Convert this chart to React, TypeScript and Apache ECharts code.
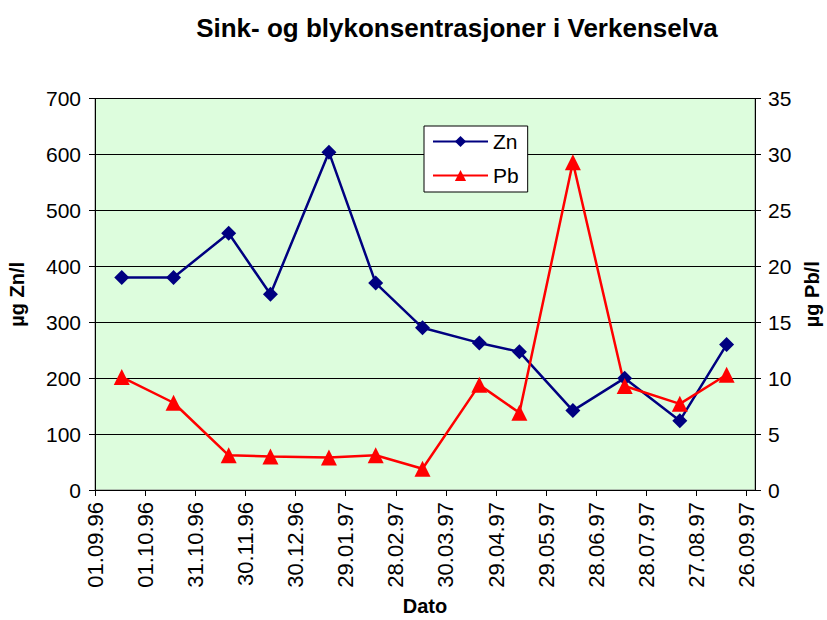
import React, { useEffect, useRef } from "react";
import * as echarts from "echarts";

const titleText = "Sink- og blykonsentrasjoner i Verkenselva";
const sampleDates = [
  "1996-09-17", "1996-10-18", "1996-11-20", "1996-12-15", "1997-01-19",
  "1997-02-16", "1997-03-16", "1997-04-19", "1997-05-13", "1997-06-14",
  "1997-07-15", "1997-08-17", "1997-09-14",
];
const znValues = [380, 380, 459, 350, 604, 370, 290, 263, 247, 142, 200, 124, 260];
const pbValues = [10.1, 7.8, 3.1, 3.0, 2.9, 3.1, 1.9, 9.4, 6.9, 29.3, 9.3, 7.7, 10.3];
const axisStart = "1996-09-01";

const DAY = 86400000;
const toUtc = (s: string) => {
  const [y, m, d] = s.split("-").map(Number);
  return Date.UTC(y, m - 1, d);
};
const startMs = toUtc(axisStart);
const dayOffset = (s: string) => Math.round((toUtc(s) - startMs) / DAY);
const fmtDay = (v: number) => {
  const d = new Date(startMs + v * DAY);
  const dd = String(d.getUTCDate()).padStart(2, "0");
  const mm = String(d.getUTCMonth() + 1).padStart(2, "0");
  const yy = String(d.getUTCFullYear() % 100).padStart(2, "0");
  return `${dd}.${mm}.${yy}`;
};

const FONT = "Liberation Sans, Arial, sans-serif";

export default function App() {
  const ref = useRef<HTMLDivElement>(null);
  useEffect(() => {
    if (!ref.current) return;
    const chart = echarts.init(ref.current, undefined, { renderer: "svg" });
    const zn = sampleDates.map((d, i) => [dayOffset(d), znValues[i]]);
    const pb = sampleDates.map((d, i) => [dayOffset(d), pbValues[i]]);
    chart.setOption({
      animation: false,
      backgroundColor: "#ffffff",
      textStyle: { fontFamily: FONT },
      title: {
        text: titleText,
        left: 452,
        top: 10,
        textAlign: "center",
        textStyle: { fontFamily: FONT, fontSize: 26, fontWeight: "bold", color: "#000" },
      },
      legend: {
        orient: "vertical",
        left: 424,
        top: 126,
        backgroundColor: "#ffffff",
        borderColor: "#000000",
        borderWidth: 1,
        borderRadius: 0,
        padding: [5, 9, 6, 8],
        itemWidth: 55,
        itemHeight: 14,
        itemGap: 13,
        textStyle: { fontFamily: FONT, fontSize: 21, color: "#000" },
        data: ["Zn", "Pb"],
      },
      grid: {
        left: 95,
        right: 72,
        top: 98.5,
        bottom: 130,
        show: true,
        backgroundColor: "#DDFDDD",
        borderColor: "#808080",
        borderWidth: 1,
        outerBoundsMode: "none",
        containLabel: false,
      },
      xAxis: {
        type: "value",
        min: 0,
        max: 395,
        interval: 30,
        name: "Dato",
        nameLocation: "middle",
        nameGap: 106,
        nameTextStyle: { fontFamily: FONT, fontSize: 20, fontWeight: "bold", color: "#000" },
        axisLine: { show: true, lineStyle: { color: "#000", width: 1 } },
        axisTick: { show: true, length: 6, lineStyle: { color: "#000" } },
        splitLine: { show: false },
        axisLabel: {
          rotate: 90,
          margin: 12,
          showMaxLabel: false,
          fontFamily: FONT,
          fontSize: 22,
          color: "#000",
          formatter: (v: number) => (v % 30 === 0 ? fmtDay(v) : ""),
        },
      },
      yAxis: [
        {
          type: "value",
          min: 0,
          max: 700,
          interval: 100,
          position: "left",
          name: "µg Zn/l",
          nameLocation: "middle",
          nameRotate: 90,
          nameGap: 68,
          nameTextStyle: { fontFamily: FONT, fontSize: 20, fontWeight: "bold", color: "#000" },
          axisLine: { show: true, lineStyle: { color: "#000", width: 1 } },
          axisTick: { show: true, length: 6, lineStyle: { color: "#000" } },
          splitLine: { show: true, lineStyle: { color: "#000", width: 1 } },
          axisLabel: { fontFamily: FONT, fontSize: 21, color: "#000", margin: 14 },
        },
        {
          type: "value",
          min: 0,
          max: 35,
          interval: 5,
          position: "right",
          name: "µg Pb/l",
          nameLocation: "middle",
          nameRotate: 90,
          nameGap: 46,
          nameTextStyle: { fontFamily: FONT, fontSize: 20, fontWeight: "bold", color: "#000" },
          axisLine: { show: true, lineStyle: { color: "#000", width: 1 } },
          axisTick: { show: true, length: 6, lineStyle: { color: "#000" } },
          splitLine: { show: false },
          axisLabel: { fontFamily: FONT, fontSize: 21, color: "#000", margin: 13 },
        },
      ],
      series: [
        {
          name: "Zn",
          type: "line",
          yAxisIndex: 0,
          data: zn,
          symbol: "diamond",
          symbolSize: 15,
          itemStyle: { color: "#000080" },
          lineStyle: { color: "#000080", width: 2.5 },
        },
        {
          name: "Pb",
          type: "line",
          yAxisIndex: 1,
          data: pb,
          symbol: "triangle",
          symbolSize: 16,
          itemStyle: { color: "#FF0000" },
          lineStyle: { color: "#FF0000", width: 2.5 },
        },
      ],
    });
    return () => chart.dispose();
  }, []);
  return (
    <div
      ref={ref}
      style={{ position: "absolute", left: 0, top: 0, width: 827, height: 620 }}
    />
  );
}
